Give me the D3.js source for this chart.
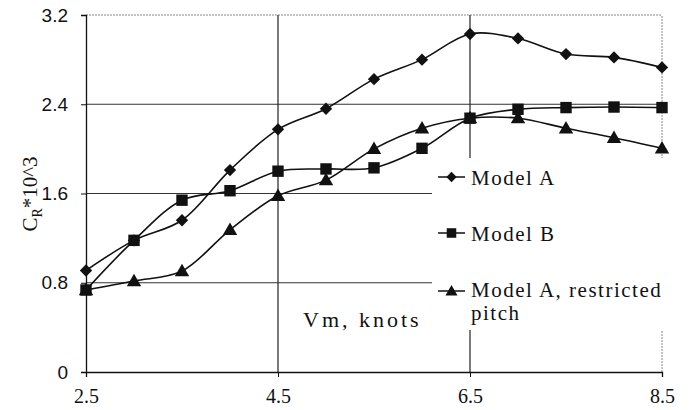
<!DOCTYPE html>
<html>
<head>
<meta charset="utf-8">
<script src="https://cdn.jsdelivr.net/npm/d3@7"></script>
<style>
  html, body { margin: 0; padding: 0; background: #fff; }
  svg { display: block; }
</style>
</head>
<body>
<svg id="chart" width="691" height="410"></svg>
<script>
// Ship speed (knots) and residuary resistance coefficient C_R * 10^3
const speeds = [2.5, 3, 3.5, 4, 4.5, 5, 5.5, 6, 6.5, 7, 7.5, 8, 8.5];
const modelA = [0.91, 1.18, 1.36, 1.81, 2.175, 2.36, 2.625, 2.80, 3.03, 2.99, 2.85, 2.82, 2.73];
const modelB = [0.735, 1.18, 1.54, 1.625, 1.80, 1.82, 1.83, 2.005, 2.275, 2.355, 2.37, 2.375, 2.37];
const modelARestricted = [0.735, 0.815, 0.905, 1.275, 1.58, 1.72, 2.0, 2.185, 2.275, 2.275, 2.185, 2.10, 2.005];

const xTicks = [2.5, 4.5, 6.5, 8.5];
const yTicks = [0, 0.8, 1.6, 2.4, 3.2];
const seriesNames = ["Model A", "Model B", "Model A, restricted pitch"];

const svg = d3.select("#chart");
const W = 691, H = 410;
const m = { left: 86, right: W - 662, top: 15, bottom: H - 372 };

svg.append("rect").attr("width", W).attr("height", H).attr("fill", "#fff");

const x = d3.scaleLinear().domain([2.5, 8.5]).range([m.left, W - m.right]);
const y = d3.scaleLinear().domain([0, 3.2]).range([H - m.bottom, m.top]);

const serif = "'Liberation Serif', 'Times New Roman', serif";
const sans = "'Liberation Sans', Arial, sans-serif";

// Horizontal gridlines
svg.append("g").selectAll("line").data(yTicks.filter(v => v > 0)).join("line")
  .attr("x1", x(2.5)).attr("x2", x(8.5))
  .attr("y1", d => y(d)).attr("y2", d => y(d))
  .attr("stroke", d => d === 3.2 ? "#888" : "#333")
  .attr("stroke-width", 1)
  .attr("stroke-dasharray", d => d === 3.2 ? "2,1" : null);

// Vertical gridlines
svg.append("g").selectAll("line").data(xTicks.filter(v => v > 2.5)).join("line")
  .attr("x1", d => x(d)).attr("x2", d => x(d))
  .attr("y1", y(0)).attr("y2", y(3.2))
  .attr("stroke", d => d === 8.5 ? "#888" : "#222")
  .attr("stroke-width", d => d === 8.5 ? 1 : 1.2)
  .attr("stroke-dasharray", d => d === 8.5 ? "2,1" : null);

// Axes
const xAxis = d3.axisBottom(x).tickValues(xTicks).tickSize(5).tickPadding(12)
  .tickFormat(d3.format(".1f"));
const gx = svg.append("g").attr("transform", `translate(0,${y(0)})`).call(xAxis);
gx.select(".domain").attr("stroke", "#111").attr("stroke-width", 1.3);
gx.selectAll(".tick line").attr("stroke", "#111");
gx.selectAll("text").attr("font-family", serif).attr("font-size", 20).attr("fill", "#111");

const yAxis = d3.axisLeft(y).tickValues(yTicks).tickSize(5).tickPadding(13)
  .tickFormat(d => d === 0 ? "0" : d3.format(".1f")(d));
const gy = svg.append("g").attr("transform", `translate(${x(2.5)},0)`).call(yAxis);
gy.select(".domain").attr("stroke", "#111").attr("stroke-width", 1.3);
gy.selectAll(".tick line").attr("stroke", "#111");
gy.selectAll("text").attr("font-family", sans).attr("font-size", 19).attr("fill", "#111");

// Y axis title
const yt = svg.append("text")
  .attr("transform", "translate(37,194) rotate(-90)")
  .attr("text-anchor", "middle")
  .attr("font-family", serif).attr("font-size", 21).attr("fill", "#111");
yt.append("tspan").text("C");
yt.append("tspan").attr("font-size", 14).attr("dy", 5).text("R");
yt.append("tspan").attr("dy", -5).text("*10^3");

// X axis title
svg.append("text")
  .attr("x", 303).attr("y", 327)
  .attr("font-family", serif).attr("font-size", 22)
  .attr("letter-spacing", 3).attr("fill", "#111")
  .text("Vm, knots");

// Series markers: diamond (rotated square), square, triangle
const markers = [
  { type: d3.symbolSquare, size: 76, rotate: 45, dy: 0 },
  { type: d3.symbolSquare, size: 130, rotate: 0, dy: 0 },
  { type: d3.symbolTriangle, size: 90, rotate: 0, dy: 1 }
];
const series = [
  { name: seriesNames[0], values: modelA, sym: 0 },
  { name: seriesNames[1], values: modelB, sym: 1 },
  { name: seriesNames[2], values: modelARestricted, sym: 2 }
];
const drawOrder = [2, 0, 1];

const line = d3.line()
  .x((d, i) => x(speeds[i]))
  .y(d => y(d))
  .curve(d3.curveCatmullRom.alpha(0.5));

drawOrder.forEach(k => {
  const s = series[k];
  const mk = markers[s.sym];
  const g = svg.append("g");
  g.append("path").attr("d", line(s.values))
    .attr("fill", "none").attr("stroke", "#111").attr("stroke-width", 1.6);
  g.selectAll("path.mk").data(s.values).join("path").attr("class", "mk")
    .attr("transform", (d, i) => `translate(${x(speeds[i])},${y(d) + mk.dy}) rotate(${mk.rotate})`)
    .attr("d", d3.symbol().type(mk.type).size(mk.size))
    .attr("fill", "#111");
});

// Legend
const lg = svg.append("g");
lg.append("rect").attr("x", 432).attr("y", 158).attr("width", 259).attr("height", 172).attr("fill", "#fff");
const legendRows = [
  { k: 0, cy: 177, lines: ["Model A"], base: 185 },
  { k: 1, cy: 233, lines: ["Model B"], base: 241 },
  { k: 2, cy: 291, lines: ["Model A, restricted", "pitch"], base: 297 }
];
legendRows.forEach(r => {
  const mk = markers[r.k];
  lg.append("line").attr("x1", 438).attr("x2", 465).attr("y1", r.cy).attr("y2", r.cy)
    .attr("stroke", "#111").attr("stroke-width", 1.5);
  lg.append("path")
    .attr("transform", `translate(451.5,${r.cy + mk.dy}) rotate(${mk.rotate})`)
    .attr("d", d3.symbol().type(mk.type).size(mk.size * 0.7))
    .attr("fill", "#111");
  const t = lg.append("text").attr("font-family", serif).attr("font-size", 21)
    .attr("letter-spacing", 1.5).attr("fill", "#111");
  r.lines.forEach((ln, j) => {
    t.append("tspan").attr("x", 471).attr("y", r.base + j * 23).text(ln);
  });
});
</script>
</body>
</html>
